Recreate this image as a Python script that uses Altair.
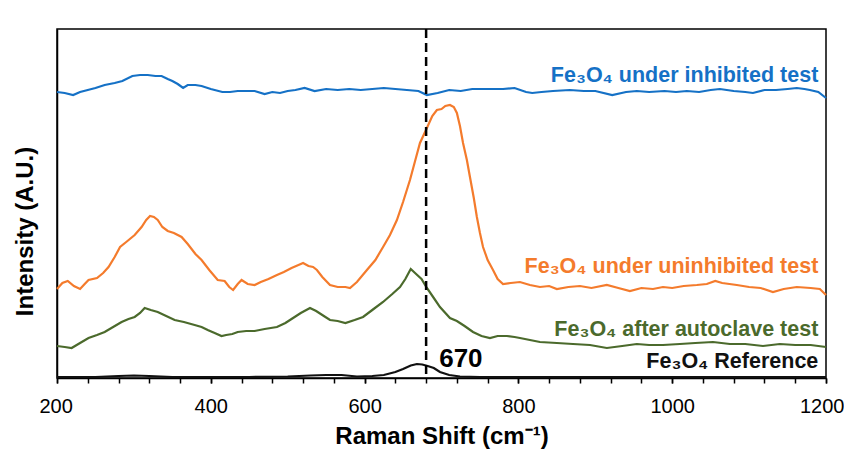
import altair as alt
import pandas as pd

# ---- data (intensity in arbitrary units) ----
blue_x = [200,210,221,230,240,250,262,275,285,298,308,318,328,336,344,350,357,364,370,380,388,400,415,425,435,446,457,470,480,490,500,510,522,535,550,565,580,595,610,625,640,655,670,681,695,710,725,740,760,780,795,810,818,830,845,867,885,900,922,940,954,970,990,1005,1019,1035,1050,1062,1080,1095,1105,1120,1135,1150,1162,1172,1179,1190,1200]
blue_y = [286,285,283,286,288,290,293,295,297,302,303,303,302,302,299,297,294,290,293,293,292,289,286,286,287,287,287,284,286,285,287,288,290,287,289,288,289,288,289,290,289,288,287,283,285,288,287,289,289,289,290,286,285,286,287,288,287,287,283,286,287,286,287,286,287,286,288,289,287,286,285,288,288,289,290,289,288,286,280]

orange_x = [200,207,214,222,230,236,241,252,260,267,275,282,290,301,310,316,321,326,331,337,344,352,362,370,380,388,398,409,418,424,429,435,440,448,457,465,475,486,495,505,514,520,527,533,538,545,555,565,575,581,590,603,614,624,633,642,650,659,666,672,681,688,694,700,705,711,716,720,724,728,733,737,742,746,750,754,760,767,773,780,790,802,815,828,840,850,865,880,895,915,930,945,960,975,988,1000,1015,1032,1045,1056,1065,1084,1100,1115,1131,1145,1162,1180,1192,1200]
orange_y = [89,95,97,92,89,94,98,100,105,111,121,131,136,143,151,158,162,161,158,151,147,145,141,134,124,118,108,98,97,91,88,94,98,94,93,96,99,103,106,110,113,115,112,111,108,101,93,91,91,90,96,108,118,131,143,158,176,198,218,235,250,262,268,269,272,273,271,265,252,235,218,201,180,161,145,131,118,108,99,94,95,96,93,91,92,89,91,92,90,93,90,87,90,89,91,90,92,93,94,97,95,93,91,90,86,89,91,90,89,83]

green_x = [200,210,219,230,241,252,262,273,284,293,301,308,314,322,331,342,353,365,379,388,396,405,414,420,428,435,446,457,470,486,497,507,517,529,537,547,555,565,575,587,598,610,624,636,646,653,660,667,674,681,690,698,711,720,730,741,752,763,773,785,795,802,815,828,850,871,893,915,935,954,970,988,1010,1030,1053,1075,1095,1118,1140,1160,1180,1200]
green_y = [32,31,30,35,40,43,46,51,56,59,61,65,70,68,66,62,58,56,53,51,48,45,42,43,44,46,47,47,49,51,55,60,65,70,67,62,58,57,55,58,61,68,76,84,91,99,109,104,99,90,80,71,60,57,52,46,42,40,42,42,41,40,38,36,35,34,33,30,32,34,33,33,34,35,36,34,34,32,34,33,33,31]

ref_x = [200,250,280,300,320,350,400,450,500,530,550,570,590,610,625,640,650,660,668,675,682,690,698,710,724,750,800,900,1000,1100,1200]
ref_y = [1,1,2,2.5,2,1,1,1,1.5,2.5,3,3,1.5,2,3,6,9,12.5,14,13.5,12,10,6,3,1.5,1,0.8,0.8,0.8,0.8,0.8]

series_names = ["Fe₃O₄ under inhibited test", "Fe₃O₄ under uninhibited test",
                "Fe₃O₄ after autoclave test", "Fe₃O₄ Reference"]
series_colors = ["#1571C6", "#F47B2C", "#4B6A2C", "#111111"]

label_x = [1190, 1190, 1190, 1190]
label_y = [296, 105, 42, 10]

peak_text = ["670"]
peak_x = [697]
peak_y = [11]

marker_x = [680]

major_ticks = list(range(200, 1201, 200))
minor_ticks = list(range(200, 1201, 40))

# ---- frames ----
rows = []
for name, xs, ys in zip(series_names, [blue_x, orange_x, green_x, ref_x],
                        [blue_y, orange_y, green_y, ref_y]):
    for a, b in zip(xs, ys):
        rows.append({"series": name, "shift": a, "intensity": b})
df = pd.DataFrame(rows)
labels = pd.DataFrame({"series": series_names, "x": label_x, "y": label_y})
peak = pd.DataFrame({"t": peak_text, "x": peak_x, "y": peak_y})
marker = pd.DataFrame({"x": marker_x})

FONT = "Liberation Sans"

xscale = alt.Scale(domain=[200, 1200], nice=False, zero=False)
yscale = alt.Scale(domain=[0, 349], nice=False, zero=True)
cscale = alt.Scale(domain=series_names, range=series_colors)

lines = alt.Chart(df).mark_line(strokeWidth=2.2).encode(
    x=alt.X("shift:Q", scale=xscale,
            axis=alt.Axis(title="Raman Shift (cm⁻¹)", values=major_ticks, format="d",
                          orient="bottom", labelOverlap=False,
                          labelFlush=True, labelFlushOffset=18,
                          grid=False, tickSize=5, tickWidth=1.5, tickColor="black",
                          domainColor="black", domainWidth=1.5,
                          labelFontSize=20, labelFont=FONT, labelColor="black",
                          labelBaseline="alphabetic", labelPadding=29,
                          titleFontSize=24, titleFont=FONT, titleFontWeight="bold",
                          titleColor="black", titleBaseline="alphabetic", titleY=65)),
    y=alt.Y("intensity:Q", scale=yscale,
            axis=alt.Axis(title="Intensity (A.U.)", labels=False, ticks=False,
                          grid=False, domainColor="black", domainWidth=1.5,
                          titleFontSize=24, titleFont=FONT, titleFontWeight="bold",
                          titleColor="black", titleX=-20, titleY=202,
                          titleBaseline="bottom", titleAngle=270)),
    color=alt.Color("series:N", scale=cscale, legend=None),
    order=alt.Order("shift:Q"),
    detail="series:N",
)

rule = alt.Chart(marker).mark_rule(color="black", strokeWidth=2.5, strokeDash=[9, 5]).encode(
    x=alt.X("x:Q", scale=xscale,
            axis=alt.Axis(title=None, values=minor_ticks, labels=False, orient="bottom",
                          grid=False, domain=False, tickSize=5, tickWidth=1.5,
                          tickColor="black")))

texts = alt.Chart(labels).mark_text(align="right", baseline="alphabetic", fontSize=21.5,
                                    fontWeight="bold", font=FONT).encode(
    x=alt.X("x:Q", scale=xscale, axis=None), y=alt.Y("y:Q", scale=yscale),
    text="series:N",
    color=alt.Color("series:N", scale=cscale, legend=None))

peak_lbl = alt.Chart(peak).mark_text(align="left", baseline="alphabetic", fontSize=26,
                                     fontWeight="bold", font=FONT, color="black").encode(
    x=alt.X("x:Q", scale=xscale, axis=None), y=alt.Y("y:Q", scale=yscale), text="t:N")

chart = alt.layer(lines, rule, texts, peak_lbl).resolve_axis(x="independent").properties(
    width=769, height=349,
    autosize=alt.AutoSizeParams(type="none"),
    padding={"left": 49, "top": 21, "right": 18, "bottom": 84},
    background="white",
).configure_view(stroke="black", strokeWidth=1.5)

chart.save("out.html", embed_options={"renderer": "svg", "actions": False})
